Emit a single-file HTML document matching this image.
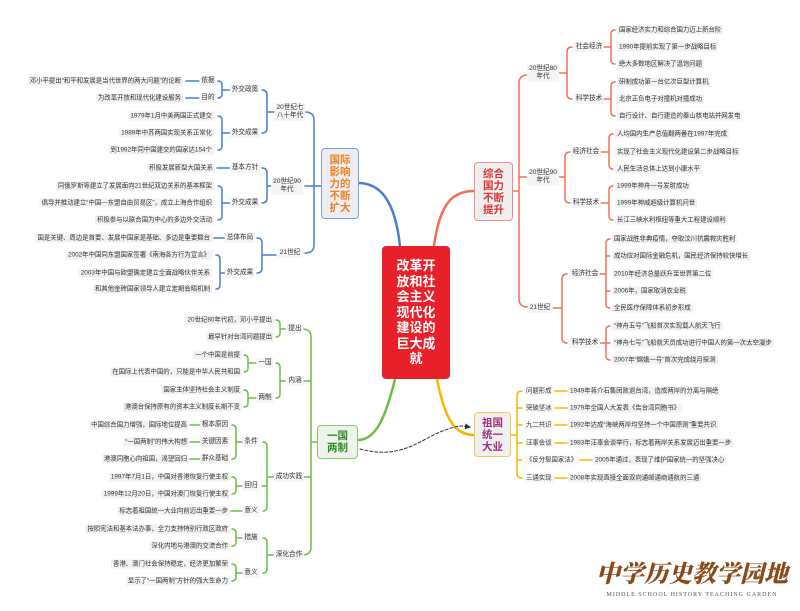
<!DOCTYPE html>
<html><head><meta charset="utf-8"><style>
body{margin:0;width:800px;height:611px;background:#fff;position:relative;overflow:hidden;font-family:"Liberation Sans","Noto Sans CJK SC",sans-serif;}
svg{position:absolute;left:0;top:0}
.t{position:absolute;font-size:6.4px;line-height:9px;color:#333;white-space:nowrap;background:#f2f2f2;padding:0 2px;transform:translateY(-50%)}
.r{transform:translate(-100%,-50%)}
.c{position:absolute;font-size:6.6px;line-height:8px;color:#333;white-space:nowrap;text-align:center;transform:translate(-50%,-50%);background:#f5f5f5;padding:1px 2px}
.box{position:absolute;display:flex;align-items:center;justify-content:center;text-align:center;font-weight:bold;box-sizing:border-box;border-radius:4px}
</style></head><body>
<svg width="800" height="611" viewBox="0 0 800 611" fill="none" stroke-width="1.5" stroke-linecap="round">
<defs><marker id="a" markerWidth="6" markerHeight="6" refX="5" refY="3" orient="auto"><path d="M0,0 L6,3 L0,6z" fill="#333"/></marker></defs>
<g stroke="#4a7fd0">
<path d="M400,246 C395,200 380,183 358,183" stroke-width="2.5"/>
<path d="M305,112 Q314,112 314,120 V245 Q314,253 305,253 M305,186 H321"/>
<path d="M262,90 Q267,90 267,95 V128 Q267,133 262,133 M267,112 H276"/>
<path d="M218,81 Q222,81 222,85 V94 Q222,98 218,98 M222,90 H231 M186,81 H199 M186,98 H199"/>
<path d="M218,116 Q222,116 222,120 V146 Q222,150 218,150 M222,133 H231"/>
<path d="M262,168 Q267,168 267,173 V198 Q267,203 262,203 M267,186 H276 M217,168 H231"/>
<path d="M218,186 Q222,186 222,190 V216 Q222,220 218,220 M222,203 H231"/>
<path d="M257,238 Q262,238 262,243 V268 Q262,273 257,273 M262,255 H276 M214,238 H226"/>
<path d="M216,255 Q220,255 220,259 V285 Q220,289 216,289 M220,273 H227"/>
</g>
<g stroke="#f0705a">
<path d="M434,246 C440,200 455,191 474,191" stroke-width="2.5"/>
<path d="M528,75 Q519,75 519,83 V299 Q519,307 528,307 M513,191 H519 M519,177 H527"/>
<path d="M572,47 Q567,47 567,52 V94 Q567,99 572,99 M559,73 H567"/>
<path d="M615,30 Q611,30 611,34 V60 Q611,64 615,64 M603,47 H611"/>
<path d="M615,82 Q611,82 611,86 V112 Q611,116 615,116 M603,99 H611"/>
<path d="M570,152 Q565,152 565,157 V198 Q565,203 570,203 M557,177 H565"/>
<path d="M613,134 Q609,134 609,138 V165 Q609,169 613,169 M600,152 H609"/>
<path d="M613,186 Q609,186 609,190 V216 Q609,220 613,220 M600,203 H609"/>
<path d="M567,274 Q562,274 562,279 V338 Q562,343 567,343 M552,308 H562"/>
<path d="M610,239 Q606,239 606,243 V304 Q606,308 610,308 M600,274 H606 M606,256 H610 M606,291 H610"/>
<path d="M610,326 Q606,326 606,330 V356 Q606,360 610,360 M600,343 H610"/>
</g>
<g stroke="#6abf45">
<path d="M395,379 C385,420 375,440 358,440" stroke-width="2.5"/>
<path d="M302,329 Q311,329 311,337 V547 Q311,555 302,555 M311,442 H317 M311,381 H304 M311,477 H304"/>
<path d="M276,320 Q280,320 280,324 V333 Q280,337 276,337 M280,329 H285"/>
<path d="M276,363 Q280,363 280,367 V394 Q280,398 276,398 M280,381 H285"/>
<path d="M244,355 Q248,355 248,359 V368 Q248,372 244,372 M248,363 H256"/>
<path d="M244,390 Q248,390 248,394 V403 Q248,407 244,407 M248,398 H256"/>
<path d="M263,442 Q267,442 267,446 V507 Q267,511 263,511 M267,477 H276 M267,486 H262"/>
<path d="M232,425 Q236,425 236,429 V455 Q236,459 232,459 M236,442 H243 M190,425 H202 M190,442 H202 M190,459 H202"/>
<path d="M232,477 Q236,477 236,481 V490 Q236,494 232,494 M236,486 H243 M231,511 H243"/>
<path d="M263,538 Q267,538 267,542 V569 Q267,573 263,573 M267,555 H276"/>
<path d="M232,529 Q236,529 236,533 V542 Q236,546 232,546 M236,538 H243"/>
<path d="M232,564 Q236,564 236,568 V577 Q236,581 232,581 M236,573 H243"/>
</g>
<g stroke="#f5b800">
<path d="M437,379 C445,420 455,435 474,435" stroke-width="2.5"/>
<path d="M522,391 Q517,391 517,396 V473 Q517,478 522,478 M511,435 H517 M517,408 H522 M517,425 H522 M517,443 H522 M517,460 H522"/>
<path d="M555,391 H567 M555,408 H567 M555,425 H567 M555,443 H567 M580,460 H592 M555,478 H567"/>
</g>
<path d="M360,449 C400,460 420,440 440,432 S462,426 470,427" stroke="#333" stroke-width="1" stroke-dasharray="3,2" marker-end="url(#a)"/>
</svg>

<div class="box" style="left:382px;top:246px;width:68px;height:133px;background:#e8202a;color:#fff;font-size:13px;line-height:15.5px">改革开<br>放和社<br>会主义<br>现代化<br>建设的<br>巨大成<br>就</div>
<div class="box" style="left:321px;top:148px;width:38px;height:71px;background:#eceef2;border:1.5px solid #7d9fd3;color:#f08020;font-size:10.5px;line-height:12px">国际<br>影响<br>力的<br>不断<br>扩大</div>
<div class="box" style="left:474px;top:162px;width:39px;height:59px;background:#efefef;border:1.5px solid #f09080;color:#e03030;font-size:10.5px;line-height:12px">综合<br>国力<br>不断<br>提升</div>
<div class="box" style="left:317px;top:425px;width:41px;height:34px;background:#edf3ea;border:1.5px solid #8cc878;color:#2e8b22;font-size:10.5px;line-height:12px">一国<br>两制</div>
<div class="box" style="left:474px;top:412px;width:37px;height:45px;background:#efefef;border:1.5px solid #f5c850;color:#a0307a;font-size:10.5px;line-height:12px">祖国<br>统一<br>大业</div>

<!-- top-left -->
<div class="c" style="left:290px;top:112px">20世纪七<br>八十年代</div>
<div class="c" style="left:287px;top:186px">20世纪90<br>年代</div>
<div class="c" style="left:290px;top:253px">21世纪</div>
<div class="c" style="left:245px;top:90px">外交政策</div>
<div class="c" style="left:245px;top:133px">外交成果</div>
<div class="c" style="left:208px;top:81px">依据</div>
<div class="c" style="left:208px;top:98px">目的</div>
<div class="t r" style="left:183px;top:81px">邓小平提出“和平和发展是当代世界的两大问题”的论断</div>
<div class="t r" style="left:183px;top:98px">为改革开放和现代化建设服务</div>
<div class="t r" style="left:214px;top:116px">1979年1月中美两国正式建交</div>
<div class="t r" style="left:214px;top:133px">1989年中苏两国实现关系正常化</div>
<div class="t r" style="left:214px;top:150px">到1992年同中国建交的国家达154个</div>
<div class="c" style="left:245px;top:168px">基本方针</div>
<div class="c" style="left:245px;top:203px">外交成果</div>
<div class="t r" style="left:215px;top:168px">积极发展新型大国关系</div>
<div class="t r" style="left:214px;top:186px">同俄罗斯等建立了发展面向21世纪双边关系的基本框架</div>
<div class="t r" style="left:214px;top:203px">倡导并推动建立“中国—东盟自由贸易区”，成立上海合作组织</div>
<div class="t r" style="left:214px;top:220px">积极参与以联合国为中心的多边外交活动</div>
<div class="c" style="left:240px;top:238px">总体布局</div>
<div class="c" style="left:240px;top:273px">外交成果</div>
<div class="t r" style="left:212px;top:238px">国是关键、周边是首要、发展中国家是基础、多边是重要舞台</div>
<div class="t r" style="left:212px;top:255px">2002年中国同东盟国家签署《南海各方行为宣言》</div>
<div class="t r" style="left:212px;top:273px">2003年中国与欧盟确定建立全面战略伙伴关系</div>
<div class="t r" style="left:212px;top:289px">和其他金砖国家领导人建立定期会晤机制</div>

<!-- top-right -->
<div class="c" style="left:543px;top:73px">20世纪80<br>年代</div>
<div class="c" style="left:543px;top:177px">20世纪90<br>年代</div>
<div class="c" style="left:540px;top:308px">21世纪</div>
<div class="c" style="left:589px;top:47px">社会经济</div>
<div class="c" style="left:589px;top:99px">科学技术</div>
<div class="t" style="left:617px;top:30px">国家经济实力和综合国力迈上新台阶</div>
<div class="t" style="left:617px;top:47px">1990年提前实现了第一步战略目标</div>
<div class="t" style="left:617px;top:64px">绝大多数地区解决了温饱问题</div>
<div class="t" style="left:617px;top:82px">研制成功第一台亿次巨型计算机</div>
<div class="t" style="left:617px;top:99px">北京正负电子对撞机对撞成功</div>
<div class="t" style="left:617px;top:116px">自行设计、自行建造的秦山核电站并网发电</div>
<div class="c" style="left:586px;top:152px">经济社会</div>
<div class="c" style="left:586px;top:203px">科学技术</div>
<div class="t" style="left:615px;top:134px">人均国内生产总值翻两番在1997年完成</div>
<div class="t" style="left:615px;top:152px">实现了社会主义现代化建设第二步战略目标</div>
<div class="t" style="left:615px;top:169px">人民生活总体上达到小康水平</div>
<div class="t" style="left:615px;top:186px">1999年神舟一号发射成功</div>
<div class="t" style="left:615px;top:203px">1999年神威超级计算机问世</div>
<div class="t" style="left:615px;top:220px">长江三峡水利枢纽等重大工程建设顺利</div>
<div class="c" style="left:585px;top:274px">经济社会</div>
<div class="c" style="left:585px;top:343px">科学技术</div>
<div class="t" style="left:612px;top:239px">国家战胜非典疫情，夺取汶川抗震救灾胜利</div>
<div class="t" style="left:612px;top:256px">成功应对国际金融危机，国民经济保持较快增长</div>
<div class="t" style="left:612px;top:274px">2010年经济总量跃升至世界第二位</div>
<div class="t" style="left:612px;top:291px">2006年，国家取消农业税</div>
<div class="t" style="left:612px;top:308px">全民医疗保障体系初步形成</div>
<div class="t" style="left:612px;top:326px">“神舟五号”飞船首次实现载人航天飞行</div>
<div class="t" style="left:612px;top:343px">“神舟七号”飞船航天员成功进行中国人的第一次太空漫步</div>
<div class="t" style="left:612px;top:360px">2007年“嫦娥一号”首次完成绕月探测</div>

<!-- bottom-left -->
<div class="c" style="left:295px;top:329px">提出</div>
<div class="c" style="left:295px;top:381px">内涵</div>
<div class="c" style="left:289px;top:477px">成功实践</div>
<div class="c" style="left:289px;top:555px">深化合作</div>
<div class="t r" style="left:274px;top:320px">20世纪80年代初，邓小平提出</div>
<div class="t r" style="left:274px;top:337px">最早针对台湾问题提出</div>
<div class="c" style="left:265px;top:363px">一国</div>
<div class="c" style="left:265px;top:398px">两制</div>
<div class="t r" style="left:242px;top:355px">一个中国是前提</div>
<div class="t r" style="left:242px;top:372px">在国际上代表中国的，只能是中华人民共和国</div>
<div class="t r" style="left:242px;top:390px">国家主体坚持社会主义制度</div>
<div class="t r" style="left:242px;top:407px">港澳台保持原有的资本主义制度长期不变</div>
<div class="c" style="left:251px;top:442px">条件</div>
<div class="c" style="left:251px;top:486px">回归</div>
<div class="c" style="left:251px;top:511px">意义</div>
<div class="c" style="left:215px;top:425px">根本原因</div>
<div class="c" style="left:215px;top:442px">关键因素</div>
<div class="c" style="left:215px;top:459px">群众基础</div>
<div class="t r" style="left:189px;top:425px">中国综合国力增强，国际地位提高</div>
<div class="t r" style="left:189px;top:442px">“一国两制”的伟大构想</div>
<div class="t r" style="left:189px;top:459px">港澳同胞心向祖国，渴望回归</div>
<div class="t r" style="left:230px;top:477px">1997年7月1日，中国对香港恢复行使主权</div>
<div class="t r" style="left:230px;top:494px">1999年12月20日，中国对澳门恢复行使主权</div>
<div class="t r" style="left:230px;top:511px">标志着祖国统一大业向前迈出重要一步</div>
<div class="c" style="left:251px;top:538px">措施</div>
<div class="c" style="left:251px;top:573px">意义</div>
<div class="t r" style="left:230px;top:529px">按照宪法和基本法办事，全力支持特别行政区政府</div>
<div class="t r" style="left:230px;top:546px">深化内地与港澳的交流合作</div>
<div class="t r" style="left:230px;top:564px">香港、澳门社会保持稳定，经济更加繁荣</div>
<div class="t r" style="left:230px;top:581px">显示了“一国两制”方针的强大生命力</div>

<!-- bottom-right -->
<div class="t" style="left:524px;top:391px;background:#f7f7f7">问题形成</div>
<div class="t" style="left:524px;top:408px;background:#f7f7f7">突破坚冰</div>
<div class="t" style="left:524px;top:425px;background:#f7f7f7">九二共识</div>
<div class="t" style="left:524px;top:443px;background:#f7f7f7">汪辜会谈</div>
<div class="t" style="left:524px;top:460px;background:#f7f7f7">《反分裂国家法》</div>
<div class="t" style="left:524px;top:478px;background:#f7f7f7">三通实现</div>
<div class="t" style="left:568px;top:391px">1949年蒋介石集团败退台湾，造成两岸的分离与隔绝</div>
<div class="t" style="left:568px;top:408px">1979年全国人大发表《告台湾同胞书》</div>
<div class="t" style="left:568px;top:425px">1992年达成“海峡两岸均坚持一个中国原则”重要共识</div>
<div class="t" style="left:568px;top:443px">1993年汪辜会谈举行，标志着两岸关系发展迈出重要一步</div>
<div class="t" style="left:593px;top:460px">2005年通过，表现了维护国家统一的坚强决心</div>
<div class="t" style="left:568px;top:478px">2008年实现直接全面双向通邮通商通航的三通</div>

<!-- logo -->
<div style="position:absolute;left:592px;top:558px;width:200px;text-align:center;font-family:'Noto Serif CJK SC','Liberation Serif',serif;font-weight:900;font-size:24px;line-height:28px;color:#8b4a1a;font-style:italic;letter-spacing:0px">中学历史教学园地</div>
<div style="position:absolute;left:594px;top:591px;width:196px;text-align:center;font-family:'Liberation Serif',serif;font-size:6px;line-height:8px;color:#555;letter-spacing:1px">MIDDLE SCHOOL HISTORY TEACHING GARDEN</div>
</body></html>
